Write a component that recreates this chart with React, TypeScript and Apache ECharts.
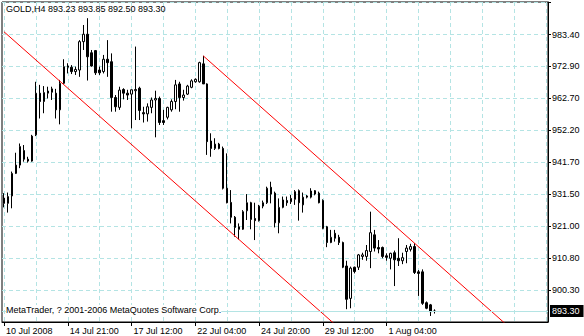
import React, { useEffect, useRef } from 'react';
import * as echarts from 'echarts';

// x-axis tick labels, one every 16 H4 bars
const xLabels = ['10 Jul 2008', '14 Jul 21:00', '17 Jul 12:00', '22 Jul 04:00', '24 Jul 20:00', '29 Jul 12:00', '1 Aug 04:00'];
// price scale labels (right side)
const yLabels = [890.10, 900.30, 910.80, 921.00, 931.50, 941.70, 952.20, 962.70, 972.90, 983.40];

// candles: [open, close, low, high]
const ohlc: number[][] = [
  [929.9, 928.2, 926.9, 931.5], [928.2, 930.4, 925.2, 931.7], [930.6, 937.9, 926.6, 938.5], [937.9, 940.6, 937.7, 944.6],
  [940.6, 946.6, 939.6, 947.6], [945.3, 942.5, 941.7, 947.1], [942.5, 941.9, 941.4, 943.3], [941.9, 950.0, 941.7, 950.4],
  [950.4, 963.9, 950.0, 967.6], [963.9, 961.2, 955.7, 966.6], [961.2, 964.1, 957.4, 966.2], [963.9, 964.6, 962.2, 966.0],
  [964.2, 965.3, 961.7, 966.0], [963.9, 958.5, 955.7, 965.3], [958.5, 967.1, 953.8, 968.2], [967.1, 972.5, 966.9, 974.9],
  [972.7, 972.3, 970.3, 973.6], [972.3, 970.9, 970.1, 973.0], [970.9, 971.6, 969.8, 972.5], [971.4, 980.6, 969.2, 981.1],
  [980.6, 983.0, 977.9, 986.0], [983.0, 975.7, 968.0, 988.2], [977.0, 972.7, 972.5, 977.9], [977.7, 970.5, 969.8, 977.9],
  [971.4, 970.5, 969.8, 972.5], [970.9, 974.9, 970.3, 976.3], [974.9, 973.8, 969.2, 981.1], [974.1, 962.5, 957.9, 976.8],
  [962.5, 959.5, 957.9, 963.3], [959.3, 964.9, 958.5, 966.0], [965.1, 963.9, 961.9, 965.5], [963.9, 963.3, 961.7, 965.0],
  [963.6, 965.0, 952.5, 965.1], [964.7, 965.1, 955.2, 979.0], [965.5, 958.3, 955.2, 966.0], [957.6, 957.2, 954.4, 959.5],
  [957.2, 959.5, 954.7, 960.6], [959.3, 961.7, 957.4, 962.5], [961.7, 962.2, 949.6, 964.7], [962.2, 954.4, 953.6, 962.8],
  [955.0, 954.4, 953.6, 958.5], [956.1, 959.3, 955.4, 959.5], [958.5, 961.2, 957.9, 961.9], [961.2, 966.6, 958.7, 968.2],
  [966.9, 962.5, 957.9, 967.6], [962.5, 963.3, 961.5, 965.0], [963.6, 966.2, 963.3, 966.6], [965.8, 967.9, 965.5, 968.4],
  [967.6, 968.4, 967.3, 968.7], [967.6, 973.8, 967.3, 974.1], [973.4, 966.9, 966.9, 976.0], [966.9, 948.2, 943.9, 967.1],
  [948.4, 946.0, 943.3, 950.9], [946.0, 947.4, 945.5, 949.3], [947.4, 946.0, 945.7, 947.8], [946.0, 933.1, 932.7, 946.6],
  [933.1, 928.4, 928.2, 944.4], [928.5, 923.7, 921.7, 932.5], [923.7, 920.4, 917.4, 924.1], [920.6, 919.8, 916.5, 921.7],
  [919.8, 925.5, 919.6, 926.0], [925.8, 928.4, 922.8, 931.2], [928.4, 923.0, 919.8, 928.7], [923.3, 922.6, 916.3, 928.4],
  [922.6, 927.3, 922.3, 927.7], [927.3, 928.4, 926.6, 929.1], [928.4, 933.1, 928.0, 933.6], [933.4, 931.2, 928.2, 935.2],
  [931.5, 921.9, 920.4, 932.0], [921.9, 926.9, 918.5, 929.8], [926.9, 929.3, 926.6, 930.4], [929.1, 928.4, 927.4, 930.4],
  [928.7, 929.8, 928.0, 930.9], [929.5, 932.0, 927.7, 932.5], [932.3, 928.4, 922.6, 932.7], [927.7, 930.2, 925.2, 931.7],
  [930.2, 930.6, 929.8, 930.9], [930.2, 932.2, 929.8, 933.1], [932.3, 931.2, 930.8, 932.5], [931.5, 928.4, 928.2, 932.0],
  [929.1, 920.1, 919.8, 929.5], [920.6, 915.5, 914.0, 920.9], [915.5, 917.2, 915.3, 919.6], [918.5, 916.9, 915.8, 919.6],
  [917.2, 915.5, 914.7, 918.0], [915.5, 907.5, 907.2, 915.8], [907.9, 897.1, 893.9, 909.6], [897.4, 907.2, 894.2, 907.7],
  [907.5, 906.1, 905.5, 907.7], [907.5, 911.5, 906.6, 911.8], [911.0, 911.5, 909.9, 912.2], [911.0, 912.9, 909.6, 914.7],
  [912.6, 918.7, 907.2, 925.5], [918.0, 913.7, 912.6, 919.6], [913.9, 913.4, 912.0, 916.3], [913.9, 911.0, 910.4, 914.2],
  [911.2, 910.7, 909.6, 912.0], [910.4, 912.0, 906.8, 912.2], [912.2, 909.9, 901.4, 912.9], [910.4, 909.6, 907.9, 916.9],
  [909.6, 910.6, 908.5, 912.2], [912.6, 913.7, 908.8, 914.7], [913.3, 914.2, 912.6, 915.1], [914.2, 905.8, 905.3, 915.3],
  [906.0, 905.5, 898.2, 906.6], [906.0, 895.8, 895.3, 906.8], [896.0, 894.2, 893.9, 896.4], [895.3, 893.1, 891.7, 895.6],
  [893.23, 893.30, 892.50, 893.85],
];

const slotCount = 137; // bar slots including the empty right margin
const barsPerLabel = 16;
const barsPerGrid = 8;
// channel lines: [barIndex, price]
const channelUpper = [[50, 976.0], [136, 877.5]];
const channelLower = [[0, 983.8], [136, 828.5]];
const lastPrice = 893.30;
const headerText = 'GOLD,H4 893.23 893.85 892.50 893.30';
const copyrightText = 'MetaTrader, ? 2001-2006 MetaQuotes Software Corp.';

const FONT = '"Liberation Sans", Arial, sans-serif';
const GRID_COLOR = '#b4e4e4';

export default function App() {
  const ref = useRef<HTMLDivElement>(null);
  useEffect(() => {
    if (!ref.current) return;
    const chart = echarts.init(ref.current, undefined, { renderer: 'svg' });
    const categories = Array.from({ length: slotCount }, (_, i) => String(i));
    const labelIdx = (i: number) => i % barsPerLabel === 0 && i / barsPerLabel < xLabels.length;
    chart.setOption({
      animation: false,
      backgroundColor: '#fff',
      textStyle: { fontFamily: FONT },
      grid: { left: 2, right: 36, top: 2, bottom: 14, show: true, borderColor: '#000', borderWidth: 1, backgroundColor: '#fff' },
      xAxis: {
        type: 'category',
        data: categories,
        boundaryGap: true,
        axisLine: { show: true, lineStyle: { color: '#000', width: 1 } },
        axisTick: { show: true, alignWithLabel: true, length: 4, interval: (i: number) => labelIdx(i), lineStyle: { color: '#000' } },
        axisLabel: {
          interval: (i: number) => labelIdx(i),
          formatter: (_v: string, i: number) => xLabels[i / barsPerLabel] ?? '',
          align: 'left', padding: [0, 0, 0, 2], margin: 4,
          fontSize: 9, color: '#000', fontFamily: FONT,
        },
        splitLine: { show: true, alignWithLabel: true, interval: (i: number) => i % barsPerGrid === 0, lineStyle: { color: GRID_COLOR, type: [4, 3], width: 1 } },
      },
      yAxis: {
        type: 'value',
        position: 'right',
        min: 889.75,
        max: 993.45,
        interval: 10.35,
        scale: true,
        axisLine: { show: true, lineStyle: { color: '#000', width: 1 } },
        axisTick: { show: true, length: 3, lineStyle: { color: '#000' } },
        axisLabel: {
          showMinLabel: false, showMaxLabel: false,
          margin: 4, fontSize: 9, color: '#000', fontFamily: FONT,
          formatter: (v: number) => {
            const hit = yLabels.find((l) => Math.abs(l - v) < 1);
            return hit === undefined ? '' : hit.toFixed(2);
          },
        },
        splitLine: { show: true, showMinLine: false, showMaxLine: false, lineStyle: { color: GRID_COLOR, type: [4, 3], width: 1 } },
      },
      series: [
        {
          type: 'candlestick',
          data: ohlc,
          barWidth: 2,
          itemStyle: { color: '#fff', color0: '#000', borderColor: '#000', borderColor0: '#000', borderColorDoji: '#000', borderWidth: 1 },
          markLine: {
            silent: true, symbol: ['none', 'none'],
            lineStyle: { color: GRID_COLOR, type: 'solid', width: 1 },
            label: {
              position: 'end', distance: 2, formatter: lastPrice.toFixed(2),
              color: '#fff', backgroundColor: '#000', padding: [2, 4, 1, 2], fontSize: 9, fontFamily: FONT,
            },
            data: [{ yAxis: lastPrice }],
          },
          z: 3,
        },
        {
          type: 'line', data: channelUpper, showSymbol: false, silent: true,
          lineStyle: { color: '#ff0000', width: 1 }, z: 4,
        },
        {
          type: 'line', data: channelLower, showSymbol: false, silent: true,
          lineStyle: { color: '#ff0000', width: 1 }, z: 4,
        },
      ],
      graphic: [
        { type: 'text', left: 6, top: 4, z: 10, style: { text: headerText, fill: '#000', font: `9px ${FONT}` } },
        { type: 'text', left: 6, top: 305, z: 10, style: { text: copyrightText, fill: '#000', font: `9px ${FONT}`, backgroundColor: '#fff' } },
      ],
    });
    return () => chart.dispose();
  }, []);
  return <div ref={ref} style={{ position: 'fixed', left: 0, top: 0, width: 584, height: 336 }} />;
}
